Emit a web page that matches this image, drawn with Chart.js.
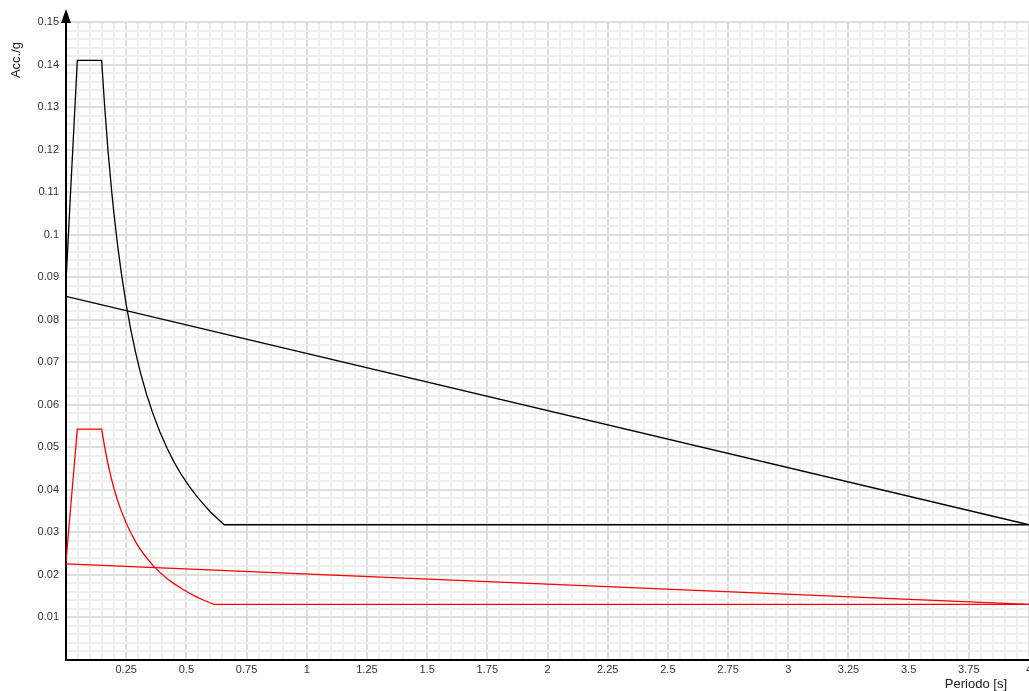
<!DOCTYPE html>
<html lang="it">
<head>
  <meta charset="UTF-8">
  <title>Spettro</title>
  <script src="https://cdn.jsdelivr.net/npm/chart.js"></script>
  <style>
    body { margin: 0; background: #fff; }
    #wrap { width: 1029px; height: 691px; position: relative; }
  </style>
</head>
<body>
<div id="wrap">
  <canvas id="spettro"></canvas>
</div>

<script>
  // spettro nero
  const periodiNero = [0, 0.047, 0.148, 0.16, 0.175, 0.19, 0.2, 0.215, 0.23, 0.25, 0.27, 0.29, 0.31, 0.335, 0.36, 0.39, 0.42, 0.45, 0.48, 0.51, 0.54, 0.57, 0.6, 0.63, 0.657, 4];
  const accNero = [0.089, 0.141, 0.141, 0.1306, 0.1194, 0.1100, 0.1045, 0.0972, 0.0909, 0.0836, 0.0774, 0.0721, 0.0674, 0.0624, 0.0581, 0.0536, 0.0498, 0.0464, 0.0435, 0.0410, 0.0387, 0.0367, 0.0348, 0.0332, 0.0318, 0.0318];

  // spettro rosso
  const periodiRosso = [0, 0.047, 0.148, 0.16, 0.175, 0.19, 0.2, 0.215, 0.23, 0.25, 0.27, 0.29, 0.31, 0.335, 0.36, 0.39, 0.42, 0.45, 0.48, 0.51, 0.54, 0.57, 0.6, 0.616, 4];
  const accRosso = [0.023, 0.0543, 0.0543, 0.0503, 0.0459, 0.0423, 0.0402, 0.0374, 0.0350, 0.0322, 0.0298, 0.0277, 0.0259, 0.0240, 0.0223, 0.0206, 0.0191, 0.0179, 0.0168, 0.0158, 0.0149, 0.0141, 0.0134, 0.0131, 0.0131];

  // rette
  const periodiRetta = [0, 4];
  const rettaNera = [0.0855, 0.0318];
  const rettaRossa = [0.0226, 0.0131];

  // etichette assi
  const xTickMaggiori = [0.25, 0.5, 0.75, 1, 1.25, 1.5, 1.75, 2, 2.25, 2.5, 2.75, 3, 3.25, 3.5, 3.75, 4];
  const yTickMaggiori = [0.01, 0.02, 0.03, 0.04, 0.05, 0.06, 0.07, 0.08, 0.09, 0.1, 0.11, 0.12, 0.13, 0.14, 0.15];
  const titoloX = 'Periodo [s]';
  const titoloY = 'Acc./g';

  const punti = (xs, ys) => xs.map((x, i) => ({ x: x, y: ys[i] }));
  const inLista = (lista, v) => lista.some(t => Math.abs(t - v) < 1e-9);
  const FONT = '"Liberation Sans", Arial, sans-serif';

  // freccia asse y + titoli assi
  const decorazioni = {
    id: 'decorazioni',
    afterDraw(chart) {
      const c = chart.ctx;
      const a = chart.chartArea;
      const x = a.left;
      c.save();
      c.strokeStyle = '#000';
      c.lineWidth = 2;
      c.beginPath();
      c.moveTo(x, a.top);
      c.lineTo(x, a.top - 4);
      c.stroke();
      c.fillStyle = '#000';
      c.beginPath();
      c.moveTo(x, a.top - 13);
      c.lineTo(x - 5, a.top + 1);
      c.lineTo(x + 5, a.top + 1);
      c.closePath();
      c.fill();

      c.fillStyle = '#222';
      c.font = '13px ' + FONT;
      c.textBaseline = 'middle';
      c.textAlign = 'right';
      c.fillText(titoloX, 1007, 684);

      c.translate(16, 60);
      c.rotate(-Math.PI / 2);
      c.textAlign = 'center';
      c.fillText(titoloY, 0, 0);
      c.restore();
    }
  };

  const ctx = document.getElementById('spettro').getContext('2d');
  const grafico = new Chart(ctx, {
    type: 'scatter',
    data: {
      datasets: [
        { data: punti(periodiNero, accNero), borderColor: '#000', borderWidth: 1.3 },
        { data: punti(periodiRosso, accRosso), borderColor: '#ff0000', borderWidth: 1.3 },
        { data: punti(periodiRetta, rettaNera), borderColor: '#000', borderWidth: 1.3 },
        { data: punti(periodiRetta, rettaRossa), borderColor: '#ff0000', borderWidth: 1.3 }
      ]
    },
    options: {
      responsive: true,
      maintainAspectRatio: false,
      animation: false,
      showLine: true,
      elements: { point: { radius: 0, hoverRadius: 0 }, line: { tension: 0 } },
      layout: { padding: { left: 0, right: 0, top: 22, bottom: 11 } },
      plugins: { legend: { display: false }, tooltip: { enabled: false } },
      scales: {
        x: {
          type: 'linear',
          min: 0,
          max: 4,
          border: { color: '#000', width: 2 },
          grid: {
            drawTicks: false,
            color: c => inLista(xTickMaggiori, c.tick.value) ? '#dedede' : '#efefef',
            lineWidth: 2
          },
          ticks: {
            stepSize: 0.05,
            autoSkip: false,
            maxRotation: 0,
            padding: 3,
            color: '#333',
            font: { family: FONT, size: 11 },
            callback: v => inLista(xTickMaggiori, v) ? String(+v.toFixed(2)) : ''
          },
          afterFit(s) { s.height = 20; s.paddingLeft = 0; s.paddingRight = 0; }
        },
        y: {
          type: 'linear',
          min: 0,
          max: 0.15,
          border: { color: '#000', width: 2 },
          grid: {
            drawTicks: false,
            color: c => inLista(yTickMaggiori, c.tick.value) ? '#dedede' : '#efefef',
            lineWidth: 2
          },
          ticks: {
            stepSize: 0.002,
            autoSkip: false,
            padding: 7,
            color: '#333',
            font: { family: FONT, size: 11 },
            callback: v => inLista(yTickMaggiori, v) ? String(+v.toFixed(2)) : ''
          },
          afterFit(s) { s.width = 66; s.paddingTop = 0; s.paddingBottom = 0; }
        }
      }
    },
    plugins: [decorazioni]
  });
</script>
</body>
</html>
